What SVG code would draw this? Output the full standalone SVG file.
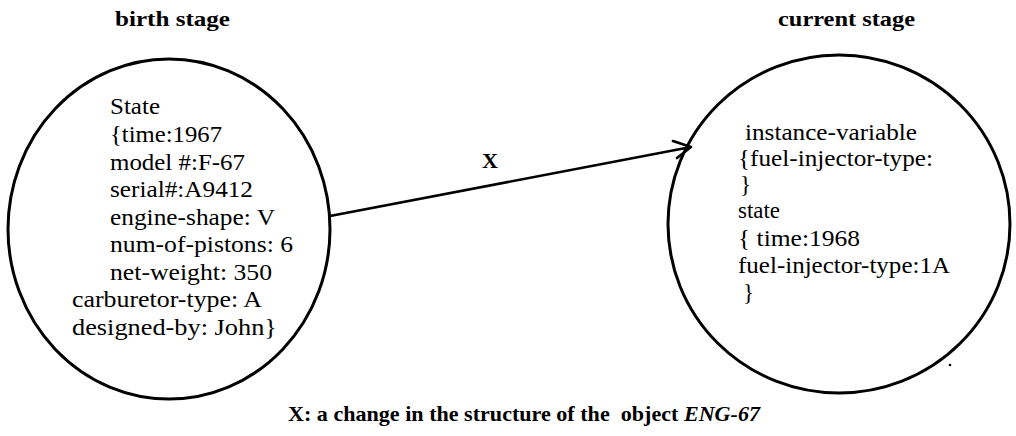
<svg xmlns="http://www.w3.org/2000/svg" width="1016" height="436" viewBox="0 0 1016 436">
<style>
text{font-family:"Liberation Serif",serif;fill:#000}
.t{font-size:23px}
.h{font-size:22px;font-weight:bold}
.ring{fill:none;stroke:#000;stroke-width:3}
.edge{fill:none;stroke:#000;stroke-width:2.6;stroke-linecap:round;stroke-linejoin:round}
</style>
<rect width="1016" height="436" fill="#fff"/>
<text class="h" x="115" y="26" textLength="115" lengthAdjust="spacingAndGlyphs">birth stage</text>
<text class="h" x="778" y="26" textLength="137" lengthAdjust="spacingAndGlyphs">current stage</text>
<g id="birth">
<ellipse class="ring" cx="169" cy="229" rx="161" ry="170"/>
<text class="t" x="110" y="114" textLength="50" lengthAdjust="spacingAndGlyphs">State</text>
<text class="t" x="110" y="142" textLength="112" lengthAdjust="spacingAndGlyphs">{time:1967</text>
<text class="t" x="110" y="169.5" textLength="135" lengthAdjust="spacingAndGlyphs">model #:F-67</text>
<text class="t" x="110" y="197" textLength="143" lengthAdjust="spacingAndGlyphs">serial#:A9412</text>
<text class="t" x="110" y="224.5" textLength="165" lengthAdjust="spacingAndGlyphs">engine-shape: V</text>
<text class="t" x="110" y="252" textLength="183" lengthAdjust="spacingAndGlyphs">num-of-pistons: 6</text>
<text class="t" x="110" y="279.5" textLength="162" lengthAdjust="spacingAndGlyphs">net-weight: 350</text>
<text class="t" x="72" y="307" textLength="190" lengthAdjust="spacingAndGlyphs">carburetor-type: A</text>
<text class="t" x="72" y="334.5" textLength="205" lengthAdjust="spacingAndGlyphs">designed-by: John}</text>
</g>
<g id="current">
<ellipse class="ring" cx="839" cy="224" rx="171" ry="169"/>
<text class="t" x="745" y="140" textLength="172" lengthAdjust="spacingAndGlyphs">instance-variable</text>
<text class="t" x="738" y="166" textLength="195" lengthAdjust="spacingAndGlyphs">{fuel-injector-type:</text>
<text class="t" x="740" y="192">}</text>
<text class="t" x="738" y="218" textLength="42" lengthAdjust="spacingAndGlyphs">state</text>
<text class="t" x="738" y="246" textLength="122" lengthAdjust="spacingAndGlyphs">{ time:1968</text>
<text class="t" x="738" y="273" textLength="212" lengthAdjust="spacingAndGlyphs">fuel-injector-type:1A</text>
<text class="t" x="743" y="300">}</text>
<circle cx="950" cy="365" r="1.3" fill="#000"/>
</g>
<g id="connectors">
<path class="edge" d="M330 216 L691 147 M673 141 L691 147 L677 158"/>
<text class="h" x="482" y="168" textLength="16" lengthAdjust="spacingAndGlyphs">X</text>
</g>
<text class="h" x="288" y="421" textLength="472" lengthAdjust="spacingAndGlyphs" xml:space="preserve">X: a change in the structure of the  object <tspan font-style="italic">ENG-67</tspan></text>
</svg>
